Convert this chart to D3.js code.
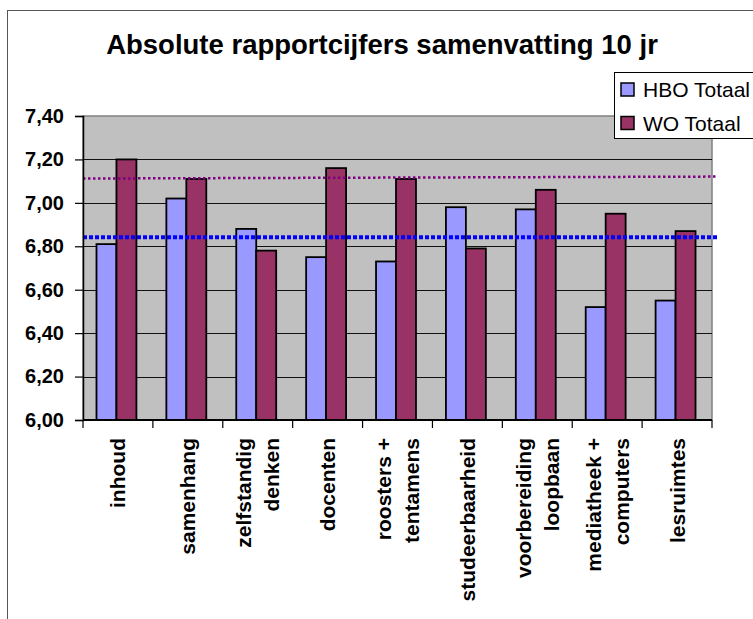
<!DOCTYPE html>
<html>
<head>
<meta charset="utf-8">
<script src="https://cdn.jsdelivr.net/npm/d3@7"></script>
<style>
  html, body { margin: 0; padding: 0; background: #fff; }
  svg { display: block; font-family: Arial, "Liberation Sans", sans-serif; }
</style>
</head>
<body>
<svg id="chart" width="753" height="619"></svg>
<script>
// ---- data ----
const categories = [
  ["inhoud"],
  ["samenhang"],
  ["zelfstandig", "denken"],
  ["docenten"],
  ["roosters +", "tentamens"],
  ["studeerbaarheid"],
  ["voorbereiding", "loopbaan"],
  ["mediatheek +", "computers"],
  ["lesruimtes"]
];
const seriesNames = ["HBO Totaal", "WO Totaal"];
const hboValues = [6.81, 7.02, 6.88, 6.75, 6.73, 6.98, 6.97, 6.52, 6.55];
const woValues  = [7.20, 7.11, 6.78, 7.16, 7.11, 6.79, 7.06, 6.95, 6.87];
const yTicks = [6.00, 6.20, 6.40, 6.60, 6.80, 7.00, 7.20, 7.40];
const hboRefLine = [6.842, 6.842];   // start, end
const woRefLine  = [7.112, 7.121];   // start, end
const title = "Absolute rapportcijfers samenvatting 10 jr";

// ---- layout ----
const svg = d3.select("#chart");
const plot = { left: 83, right: 712, top: 116, bottom: 420 };
const colors = { "HBO Totaal": "#9999FF", "WO Totaal": "#993366" };

const x = d3.scaleBand().domain(d3.range(categories.length)).range([plot.left, plot.right]).padding(0);
const xs = d3.scaleBand().domain(seriesNames).range([0, x.bandwidth()]).paddingInner(0).paddingOuter(0.75).align(0.45);
const y = d3.scaleLinear().domain([6.0, 7.4]).range([plot.bottom, plot.top]);

// outer frame
svg.append("rect").attr("x", 7.5).attr("y", 10.5).attr("width", 800).attr("height", 700)
  .attr("fill", "#fff").attr("stroke", "#555").attr("stroke-width", 1);

// title
svg.append("text").attr("x", 382).attr("y", 54).attr("text-anchor", "middle")
  .attr("font-size", 27.5).attr("font-weight", "bold").attr("fill", "#000").text(title);

// plot background
svg.append("rect").attr("x", plot.left).attr("y", plot.top)
  .attr("width", plot.right - plot.left).attr("height", plot.bottom - plot.top)
  .attr("fill", "#C0C0C0").attr("stroke", "#808080").attr("stroke-width", 1.5);

// gridlines
svg.append("g").selectAll("line").data(yTicks.filter(t => t > 6 && t < 7.4)).join("line")
  .attr("x1", plot.left).attr("x2", plot.right)
  .attr("y1", d => Math.round(y(d)) + 0.5).attr("y2", d => Math.round(y(d)) + 0.5)
  .attr("stroke", "#111").attr("stroke-width", 1);

// bars
const groups = svg.append("g").selectAll("g").data(categories.map((c, i) => i)).join("g")
  .attr("transform", i => `translate(${x(i)},0)`);
groups.selectAll("rect").data(i => [
    { s: "HBO Totaal", v: hboValues[i] },
    { s: "WO Totaal", v: woValues[i] }
  ]).join("rect")
  .attr("x", d => xs(d.s)).attr("width", xs.bandwidth())
  .attr("y", d => y(d.v)).attr("height", d => y(6.0) - y(d.v))
  .attr("fill", d => colors[d.s]).attr("stroke", "#000").attr("stroke-width", 1.8);

// reference lines
const refEnd = plot.right + 6;
svg.append("line").attr("x1", plot.left).attr("x2", refEnd)
  .attr("y1", y(woRefLine[0])).attr("y2", y(woRefLine[1]))
  .attr("stroke", "#800080").attr("stroke-width", 2.5).attr("stroke-dasharray", "2.5,2.5");
svg.append("line").attr("x1", plot.left).attr("x2", refEnd)
  .attr("y1", y(hboRefLine[0])).attr("y2", y(hboRefLine[1]))
  .attr("stroke", "#0000FF").attr("stroke-width", 4).attr("stroke-dasharray", "4,2");

// y axis
const yAxis = d3.axisLeft(y).tickValues(yTicks).tickSize(8).tickPadding(11)
  .tickFormat(d => d3.format(".2f")(d).replace(".", ","));
const gy = svg.append("g").attr("transform", `translate(${plot.left},0)`).call(yAxis);
gy.select(".domain").attr("stroke", "#000").attr("stroke-width", 1.5);
gy.selectAll(".tick line").attr("stroke", "#000").attr("stroke-width", 1.2);
gy.selectAll(".tick text").attr("font-size", 20).attr("font-weight", "bold")
  .attr("fill", "#000").attr("font-family", "Arial, 'Liberation Sans', sans-serif");

// x axis line + ticks at category boundaries
svg.append("line").attr("x1", plot.left).attr("x2", plot.right)
  .attr("y1", plot.bottom).attr("y2", plot.bottom).attr("stroke", "#000").attr("stroke-width", 2);
const boundaries = d3.range(categories.length + 1).map(i => i < categories.length ? x(i) : plot.right);
svg.append("g").selectAll("line").data(boundaries).join("line")
  .attr("x1", d => d).attr("x2", d => d).attr("y1", plot.bottom).attr("y2", plot.bottom + 8)
  .attr("stroke", "#000").attr("stroke-width", 1.2);

// x labels (rotated)
const lineGap = 28;
const labels = svg.append("g").selectAll("g").data(categories.map((c, i) => ({ c, i }))).join("g")
  .attr("transform", d => `translate(${x(d.i) + x.bandwidth() / 2},438) rotate(-90)`);
labels.each(function(d) {
  const n = d.c.length;
  const t = d3.select(this).append("text").attr("text-anchor", "end")
    .attr("font-size", 21).attr("font-weight", "bold").attr("fill", "#000");
  d.c.forEach((line, k) => {
    t.append("tspan").attr("x", 0)
      .attr("y", (k - (n - 1) / 2) * lineGap + 7.5)
      .text(line);
  });
});

// legend
const lg = svg.append("g");
lg.append("rect").attr("x", 614.5).attr("y", 72.5).attr("width", 200).attr("height", 66)
  .attr("fill", "#fff").attr("stroke", "#000").attr("stroke-width", 1);
seriesNames.forEach((s, k) => {
  const cy = 89.5 + k * 33.5;
  lg.append("rect").attr("x", 621).attr("y", cy - 6.5).attr("width", 13).attr("height", 13)
    .attr("fill", colors[s]).attr("stroke", "#000").attr("stroke-width", 1.5);
  lg.append("text").attr("x", 643).attr("y", cy + 7.5).attr("font-size", 21)
    .attr("fill", "#000").text(s);
});
</script>
</body>
</html>
